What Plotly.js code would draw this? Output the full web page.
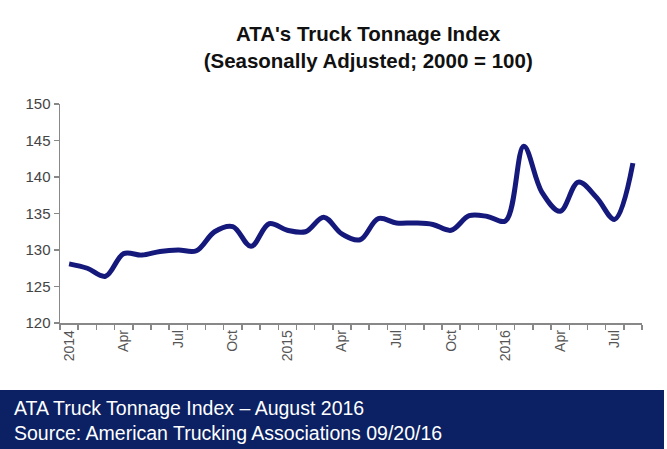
<!DOCTYPE html>
<html>
<head>
<meta charset="utf-8">
<script src="https://cdn.plot.ly/plotly-3.0.1.min.js"></script>
<style>html,body{margin:0;padding:0;background:#fff;}#chart{width:667px;height:449px;}</style>
</head>
<body>
<div id="chart"></div>
<script>
const months = ["2014-01","2014-02","2014-03","2014-04","2014-05","2014-06","2014-07","2014-08","2014-09","2014-10","2014-11","2014-12",
"2015-01","2015-02","2015-03","2015-04","2015-05","2015-06","2015-07","2015-08","2015-09","2015-10","2015-11","2015-12",
"2016-01","2016-02","2016-03","2016-04","2016-05","2016-06","2016-07","2016-08"];
const tonnage = [128.1,127.5,126.4,129.5,129.3,129.8,130.0,129.9,132.5,133.2,130.5,133.6,
132.7,132.5,134.5,132.2,131.4,134.3,133.7,133.7,133.5,132.7,134.7,134.6,
134.0,144.2,137.9,135.3,139.3,137.2,134.2,141.9];
const tickIndex = [0,3,6,9,12,15,18,21,24,27,30];
const tickLabels = ["2014","Apr","Jul","Oct","2015","Apr","Jul","Oct","2016","Apr","Jul"];
const yTicks = [120,125,130,135,140,145,150];

const xIdx = months.map((m,i)=>i);

const trace = {
  x: xIdx, y: tonnage, type: 'scatter', mode: 'lines',
  line: {color: '#15197c', width: 5, shape: 'spline', smoothing: 1},
  text: months, hoverinfo: 'text+y'
};

const layout = {
  width: 667, height: 449,
  margin: {l: 60, r: 25, t: 104, b: 126},
  paper_bgcolor: '#ffffff', plot_bgcolor: '#ffffff',
  showlegend: false,
  title: {
    text: "<b>ATA's Truck Tonnage Index</b><br><b>(Seasonally Adjusted; 2000 = 100)</b>",
    font: {family: 'Liberation Sans, Arial, sans-serif', size: 20.5, color: '#111'},
    x: 0.552, xref: 'container', xanchor: 'center',
    y: 1 - 41/449, yref: 'container', yanchor: 'middle'
  },
  xaxis: {
    range: [-0.5, 31.5], showgrid: false, zeroline: false,
    showline: true, linecolor: '#888', linewidth: 1.5,
    tickmode: 'array', tickvals: tickIndex, ticktext: tickLabels,
    ticks: '', tickangle: -90,
    tickfont: {family: 'Liberation Sans, Arial, sans-serif', size: 14, color: '#555'},
    minor: {ticks: 'outside', ticklen: 5, tickcolor: '#888', tickwidth: 1.5, tickmode: 'linear', tick0: -0.5, dtick: 1, showgrid: false},
    fixedrange: true
  },
  yaxis: {
    range: [120, 150], showgrid: false, zeroline: false,
    showline: true, linecolor: '#888', linewidth: 1.5,
    tickmode: 'array', tickvals: yTicks,
    ticks: 'outside', ticklen: 5, tickcolor: '#888', tickwidth: 1.5,
    tickfont: {family: 'Liberation Sans, Arial, sans-serif', size: 15, color: '#444'},
    fixedrange: true
  },
  shapes: [{
    type: 'rect', xref: 'paper', yref: 'paper',
    x0: -60/582, x1: (664-60)/582, y0: -(449-323)/219, y1: -(390-323)/219,
    fillcolor: '#0b2163', line: {width: 0}, layer: 'above'
  }],
  annotations: [{
    xref: 'paper', yref: 'paper',
    x: (12-60)/582, y: -(420-323)/219, xanchor: 'left', yanchor: 'middle',
    align: 'left', showarrow: false,
    text: "ATA Truck Tonnage Index – August 2016<br>Source: American Trucking Associations 09/20/16",
    font: {family: 'Liberation Sans, Arial, sans-serif', size: 19.5, color: '#ffffff'}
  }]
};

Plotly.newPlot('chart', [trace], layout, {displayModeBar: false, staticPlot: true});
</script>
</body>
</html>
